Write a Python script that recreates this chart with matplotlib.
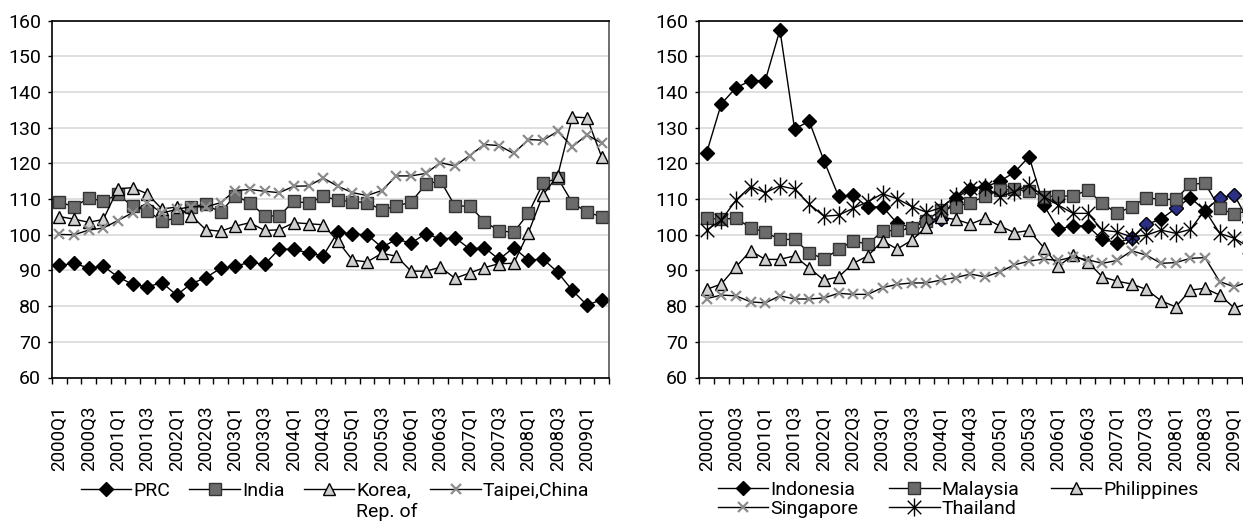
import numpy as np
import matplotlib.pyplot as plt
from matplotlib.path import Path

plt.rcParams['font.family'] = ['Roboto', 'DejaVu Sans']

quarters = [f"{y}Q{q}" for y in range(2000, 2010) for q in range(1, 5)][:38]

# left panel
prc = [91.4, 92.0, 90.7, 91.2, 88.2, 86.1, 85.4, 86.6, 83.1, 86.3, 88.0, 90.6, 91.2,
       92.3, 91.7, 96.0, 95.9, 94.9, 94.1, 100.8, 100.2, 100.0, 96.5, 98.7, 97.7, 100.3,
       98.8, 99.2, 96.0, 96.4, 93.1, 96.4, 92.9, 93.2, 89.5, 84.4, 80.3, 81.8]
india = [109.3, 107.8, 110.3, 109.4, 111.3, 108.0, 106.8, 103.8, 104.7, 107.9, 108.5,
         106.3, 111.0, 108.9, 105.4, 105.2, 109.5, 108.8, 110.8, 109.7, 109.3, 109.0,
         107.0, 108.0, 109.2, 114.1, 115.2, 108.0, 108.1, 103.7, 101.1, 100.7, 106.0,
         114.4, 115.9, 109.0, 106.3, 105.1]
korea = [105.1, 104.4, 103.5, 104.3, 112.9, 113.2, 111.5, 107.2, 107.8, 105.4, 101.4,
         101.0, 102.4, 103.4, 101.2, 101.4, 103.4, 103.1, 102.8, 98.2, 92.9, 92.4, 94.8,
         94.0, 89.8, 89.8, 90.9, 87.8, 89.3, 90.8, 91.9, 92.0, 100.6, 111.2, 116.6,
         133.0, 132.8, 121.8]
taipei = [100.1, 100.0, 101.3, 101.9, 104.0, 106.2, 109.0, 106.1, 107.1, 107.9, 107.8,
          109.0, 112.4, 112.7, 112.2, 111.8, 113.6, 113.7, 115.9, 113.6, 111.8, 111.0,
          112.4, 116.5, 116.5, 117.2, 120.2, 119.3, 122.2, 125.3, 125.0, 122.8, 126.7,
          126.5, 129.0, 124.7, 128.0, 125.7]

# right panel
indonesia = [123.0, 136.7, 141.2, 143.2, 143.2, 157.4, 129.7, 131.8, 120.8, 110.8,
             111.1, 107.7, 107.9, 103.2, 102.0, 104.0, 104.5, 110.4, 112.8, 113.4,
             115.0, 117.5, 121.9, 108.3, 101.5, 102.6, 102.4, 98.7, 97.8, 99.0,
             102.9, 104.4, 107.4, 110.4, 106.8, 110.4, 111.2, 103.5]
idn_navy = [16, 29, 30, 32, 35, 36]  # points drawn in navy in the original
malaysia = [104.6, 104.4, 104.6, 102.0, 100.7, 98.7, 98.7, 95.0, 93.2, 95.9,
            98.3, 97.3, 101.1, 101.2, 101.8, 104.0, 107.0, 107.9, 109.0, 110.8,
            112.6, 112.7, 112.3, 110.7, 110.8, 110.9, 112.5, 108.8, 106.0, 107.9,
            110.4, 109.9, 109.9, 114.2, 114.4, 107.4, 105.8, 106.8]
philippines = [84.7, 86.2, 91.0, 95.5, 93.1, 93.1, 94.1, 90.7, 87.3, 88.2,
               92.0, 94.1, 98.3, 96.0, 98.5, 102.2, 104.9, 104.3, 103.0, 104.6,
               102.5, 100.6, 101.2, 96.4, 91.2, 94.3, 92.4, 88.2, 87.0, 86.2,
               84.7, 81.5, 79.8, 84.5, 85.0, 83.1, 79.5, 80.8]
singapore = [82.1, 83.1, 82.9, 81.2, 80.9, 82.9, 82.0, 82.0, 82.3, 83.6,
             83.3, 83.3, 85.2, 86.1, 86.5, 86.5, 87.3, 88.0, 89.0, 88.2,
             89.6, 91.6, 92.6, 93.2, 92.8, 93.8, 93.0, 92.0, 92.8, 95.5,
             94.3, 92.0, 92.2, 93.4, 93.6, 86.9, 85.4, 86.9]
thailand = [101.3, 104.1, 109.7, 113.5, 111.8, 113.7, 112.8, 108.6, 105.2, 105.5,
            107.4, 109.3, 111.5, 110.1, 107.9, 106.3, 107.6, 110.9, 113.2, 113.4,
            110.7, 112.1, 113.9, 110.7, 108.3, 106.0, 106.0, 101.3, 100.8, 99.4,
            99.9, 101.3, 100.4, 101.5, 106.9, 100.4, 99.0, 96.6]

# excel style star: x with a vertical bar
star = Path([(0, -1), (0, 1), (-0.75, -0.75), (0.75, 0.75), (-0.75, 0.75), (0.75, -0.75)],
            [Path.MOVETO, Path.LINETO, Path.MOVETO, Path.LINETO, Path.MOVETO, Path.LINETO])

styles = {
    "PRC": dict(marker="D", ms=7, mfc="black", mec="black"),
    "India": dict(marker="s", ms=8.5, mfc="#6b6b6b", mec="#333333", mew=1),
    "Korea,": dict(marker="^", ms=9, mfc="#cfcfcf", mec="black", mew=1),
    "Taipei,China": dict(marker="x", ms=7, mec="#8c8c8c", mew=1.6),
    "Indonesia": dict(marker="D", ms=7, mfc="black", mec="black"),
    "Malaysia": dict(marker="s", ms=8.5, mfc="#6b6b6b", mec="#333333", mew=1),
    "Philippines": dict(marker="^", ms=9, mfc="#cfcfcf", mec="black", mew=1),
    "Singapore": dict(marker="x", ms=7, mec="#8c8c8c", mew=1.6),
    "Thailand": dict(marker=star, ms=13, mfc="none", mec="black", mew=1),
}

FS = 13.5
fig = plt.figure(figsize=(12.43, 5.25), dpi=100)
W, H = 1243, 525
ax1 = fig.add_axes([52 / W, 1 - 377.5 / H, 557 / W, 356.8 / H])
ax2 = fig.add_axes([699.3 / W, 1 - 377.5 / H, 557 / W, 356.8 / H])

x = np.arange(len(quarters))


def setup(ax):
    ax.set_xlim(-0.5, len(quarters) - 0.5)
    ax.set_ylim(60, 160)
    ax.set_yticks(np.arange(60, 161, 10))
    ax.yaxis.grid(True, color="#dcdcdc", lw=1.3)
    ax.set_axisbelow(True)
    ax.set_xticks(np.arange(-0.5, len(quarters), 1))
    ax.set_xticklabels([])
    ax.set_xticks(x[::2], minor=True)
    ax.set_xticklabels(quarters[::2], minor=True, rotation=90, va="top")
    ax.tick_params(axis="x", which="major", length=4, width=1, direction="out")
    ax.tick_params(axis="x", which="minor", length=0, pad=20, labelsize=FS)
    ax.tick_params(axis="y", length=3, width=1, pad=5, labelsize=FS + 0.5)
    for s in ax.spines.values():
        s.set_color("black")
        s.set_linewidth(1.2)
    ax.spines["right"].set_color("#555555")


setup(ax1)
setup(ax2)

lines1 = []
for name, vals in zip(["PRC", "India", "Korea,", "Taipei,China"],
                      [prc, india, korea, taipei]):
    ln, = ax1.plot(x, vals, color="black", lw=1, label=name, **styles[name])
    lines1.append(ln)

lines2 = {}
for name, vals in zip(["Indonesia", "Malaysia", "Philippines", "Singapore", "Thailand"],
                      [indonesia, malaysia, philippines, singapore, thailand]):
    ln, = ax2.plot(x, vals, color="black", lw=1, label=name, **styles[name])
    lines2[name] = ln
    if name == "Indonesia":
        ax2.plot(x[idn_navy], np.array(indonesia)[idn_navy], ls="none", marker="D",
                 ms=7, mfc="#2b2f86", mec="black", mew=0.8)

leg1 = fig.legend(handles=lines1, loc="upper center", bbox_to_anchor=(335 / W, 1 - 472 / H),
                  ncol=4, frameon=False, fontsize=FS + 0.5, handlelength=2.6,
                  handletextpad=0.1, columnspacing=1.0, borderpad=0)

order = ["Indonesia", "Singapore", "Malaysia", "Thailand", "Philippines"]
fig.legend(handles=[lines2[n] for n in order], loc="upper center",
           bbox_to_anchor=(958 / W, 1 - 471 / H), ncol=3, frameon=False, fontsize=FS + 0.5,
           handlelength=2.6, handletextpad=0.1, columnspacing=1.6, borderpad=0,
           labelspacing=0.05)

# second line of the Korea label, under "Korea,"
fig.canvas.draw()
bb = leg1.get_texts()[2].get_window_extent()
fig.text(bb.x0 / W, (bb.y0 - 12) / H, "Rep. of", fontsize=FS + 0.5, va="center", ha="left")

fig.savefig("out.png", dpi=100)
